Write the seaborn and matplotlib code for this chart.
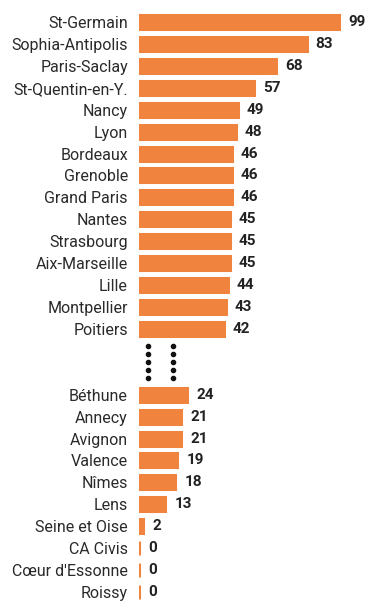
import numpy as np
import pandas as pd
import seaborn as sns
import matplotlib.pyplot as plt

# data
top_names = ['St-Germain', 'Sophia-Antipolis', 'Paris-Saclay', 'St-Quentin-en-Y.', 'Nancy',
             'Lyon', 'Bordeaux', 'Grenoble', 'Grand Paris', 'Nantes',
             'Strasbourg', 'Aix-Marseille', 'Lille', 'Montpellier', 'Poitiers']
top_values = [99, 83, 68, 57, 49, 48, 46, 46, 46, 45, 45, 45, 44, 43, 42]

bottom_names = ['Béthune', 'Annecy', 'Avignon', 'Valence', 'Nîmes', 'Lens',
                'Seine et Oise', 'CA Civis', "Cœur d'Essonne", 'Roissy']
bottom_values = [24, 21, 21, 19, 18, 13, 2, 0, 0, 0]

gap_rows = ['', ' ']  # empty slots where the dotted break goes

df = pd.DataFrame({'name': top_names + bottom_names,
                   'value': top_values + bottom_values})
order = top_names + gap_rows + bottom_names

sns.set_theme(style='white')
plt.rcParams['font.family'] = ['Roboto', 'DejaVu Sans']

orange = '#F0843E'

fig = plt.figure(figsize=(3.66, 6.03), dpi=100)
ax = fig.add_axes([139 / 366, 0, 227 / 366, 1 - 11 / 603])

sns.barplot(data=df, x='value', y='name', order=order, orient='h',
            color=orange, saturation=1, width=0.64,
            edgecolor=orange, linewidth=2.2, ax=ax)

for cont in ax.containers:
    ax.bar_label(cont, fmt='%d', padding=6.5, fontsize=11, fontweight='bold', color='#222222')

# dotted break between the two groups
gap_pos = [order.index(g) for g in gap_rows]
dot_y = np.linspace(gap_pos[0] - 0.22, gap_pos[1] + 0.22, 5)
for dx in [4.5, 16.8]:
    ax.scatter([dx] * len(dot_y), dot_y, s=9, color='#111111', zorder=3)

ax.set_xlim(0, 227 / 2.02)
ax.set_ylim(len(order) - 0.5, -0.5)
ax.set_xlabel('')
ax.set_ylabel('')
ax.set_xticks([])
ax.tick_params(axis='y', length=0, pad=8, labelsize=11.5, labelcolor='#2a2a2a')
sns.despine(ax=ax, left=True, bottom=True)

fig.savefig('out.png', dpi=100)
